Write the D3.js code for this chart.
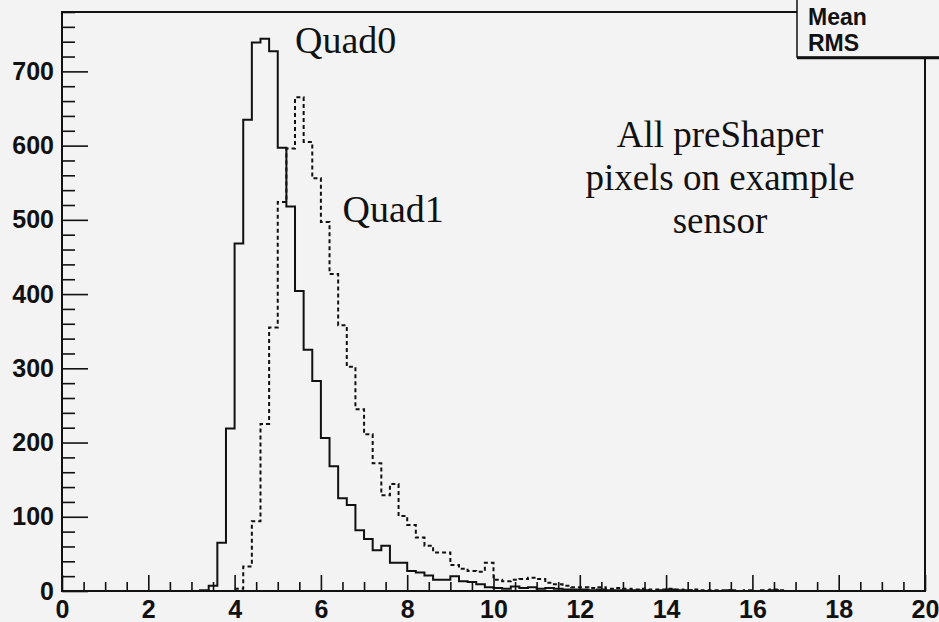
<!DOCTYPE html>
<html>
<head>
<meta charset="utf-8">
<script src="https://cdn.jsdelivr.net/npm/d3@7"></script>
<style>
  html, body { margin: 0; padding: 0; background: #f3f3f3; }
  svg { display: block; }
</style>
</head>
<body>
<svg id="chart" width="939" height="622"></svg>
<script>
// ---- data ----
const binLowEdges = [
  0.0,0.2,0.4,0.6,0.8,1.0,1.2,1.4,1.6,1.8,
  2.0,2.2,2.4,2.6,2.8,3.0,3.2,3.4,3.6,3.8,
  4.0,4.2,4.4,4.6,4.8,5.0,5.2,5.4,5.6,5.8,
  6.0,6.2,6.4,6.6,6.8,7.0,7.2,7.4,7.6,7.8,
  8.0,8.2,8.4,8.6,8.8,9.0,9.2,9.4,9.6,9.8,
  10.0,10.2,10.4,10.6,10.8,11.0,11.2,11.4,11.6,11.8,
  12.0,12.2,12.4,12.6,12.8,13.0,13.2,13.4,13.6,13.8,
  14.0,14.2,14.4,14.6,14.8,15.0,15.2,15.4,15.6,15.8,
  16.0,16.2,16.4,16.6,16.8,17.0,17.2,17.4,17.6,17.8,
  18.0,18.2,18.4,18.6,18.8,19.0,19.2,19.4,19.6,19.8
];
const binWidth = 0.2;

const quad0 = [
  0,0,0,0,0,0,0,0,0,0,
  0,0,0,0,0,0,1,7,65,219,
  468,635,739,744,727,597,518,404,325,283,
  206,168,125,116,82,70,55,61,38,38,
  27,25,21,15,15,20,13,12,9,5,
  4,3,6,4,5,3,4,3,2,2,
  2,1,2,1,1,1,1,1,0,1,
  2,1,1,0,0,0,0,1,0,0,
  0,0,1,0,0,0,0,0,0,0,
  0,0,0,0,0,0,0,0,0,0
];

const quad1 = [
  0,0,0,0,0,0,0,0,0,0,
  0,0,0,0,0,0,0,0,0,0,
  3,33,94,225,355,524,596,665,605,556,
  497,427,358,302,245,211,172,129,144,101,
  89,72,61,52,52,35,30,27,26,38,
  15,13,15,16,18,16,11,9,7,5,
  5,4,5,3,4,3,2,3,2,2,
  3,2,1,2,1,1,1,1,0,1,
  0,1,2,1,0,0,0,0,0,0,
  0,0,0,0,0,0,0,0,0,0
];

const xMajorTicks = [0,2,4,6,8,10,12,14,16,18,20];
const yMajorTicks = [0,100,200,300,400,500,600,700];
const xDomain = [0, 20];
const yDomain = [0, 780];

const histLabels = [
  {text: "Quad0", x: 5.4, y: 725},
  {text: "Quad1", x: 6.5, y: 497}
];
const noteLines = ["All preShaper", "pixels on example", "sensor"];
const statsLines = ["Mean", "RMS"];

// ---- layout ----
const pLeft = 62, pRight = 925, pTop = 12, pBottom = 591;
const svg = d3.select("#chart");

svg.append("rect").attr("width", 939).attr("height", 622).attr("fill", "#f3f3f3");

const x = d3.scaleLinear().domain(xDomain).range([pLeft, pRight]);
const y = d3.scaleLinear().domain(yDomain).range([pBottom, pTop]);

svg.append("defs").append("clipPath").attr("id", "plotclip")
  .append("rect").attr("x", pLeft).attr("y", pTop).attr("width", pRight - pLeft).attr("height", pBottom - pTop);

function stepPath(values) {
  const pts = [];
  values.forEach((v, i) => {
    const x0 = binLowEdges[i], x1 = binLowEdges[i] + binWidth;
    pts.push([x(x0), y(v)]);
    pts.push([x(x1), y(v)]);
  });
  return d3.line()(pts);
}

const g = svg.append("g").attr("clip-path", "url(#plotclip)");
g.append("path").attr("d", stepPath(quad1))
  .attr("fill", "none").attr("stroke", "#111").attr("stroke-width", 2)
  .attr("stroke-dasharray", "4,3");
g.append("path").attr("d", stepPath(quad0))
  .attr("fill", "none").attr("stroke", "#111").attr("stroke-width", 2);

// ---- axes ----
const xMinor = d3.range(0, 20.001, 0.5).filter(v => Math.abs(v / 2 - Math.round(v / 2)) > 1e-6);
const yMinor = d3.range(0, 781, 20).filter(v => v % 100 !== 0);

const fontAxis = "'Liberation Sans', Arial, Helvetica, sans-serif";

const xAxisMajor = d3.axisBottom(x).tickValues(xMajorTicks).tickSize(-16).tickPadding(9)
  .tickFormat(d3.format("d"));
const xAxisMinor = d3.axisBottom(x).tickValues(xMinor).tickSize(-9).tickFormat("");
const yAxisMajor = d3.axisLeft(y).tickValues(yMajorTicks).tickSize(-26).tickPadding(8)
  .tickFormat(d3.format("d"));
const yAxisMinor = d3.axisLeft(y).tickValues(yMinor).tickSize(-13).tickFormat("");

function styleAxis(sel) {
  sel.select(".domain").remove();
  sel.selectAll("line").attr("stroke", "#111").attr("stroke-width", 1.6);
  sel.selectAll("text").attr("fill", "#111")
    .style("font-family", fontAxis).style("font-weight", "bold").style("font-size", "25px");
}

svg.append("g").attr("transform", `translate(0,${pBottom})`).call(xAxisMinor).call(styleAxis);
svg.append("g").attr("transform", `translate(0,${pBottom})`).call(xAxisMajor).call(styleAxis);
svg.append("g").attr("transform", `translate(${pLeft},0)`).call(yAxisMinor).call(styleAxis);
svg.append("g").attr("transform", `translate(${pLeft},0)`).call(yAxisMajor).call(styleAxis);

// ---- frame ----
const boxLeft = 797, boxBottom = 57;
svg.append("path")
  .attr("d", `M${boxLeft},${pTop}H${pLeft}V${pBottom}H${pRight}V${boxBottom}`)
  .attr("fill", "none").attr("stroke", "#111").attr("stroke-width", 2);

// ---- stats box ----
svg.append("rect").attr("x", boxLeft).attr("y", -5).attr("width", 160).attr("height", boxBottom + 5)
  .attr("fill", "#f3f3f3").attr("stroke", "#111").attr("stroke-width", 1.5);
svg.append("line").attr("x1", boxLeft).attr("x2", 939).attr("y1", boxBottom + 1).attr("y2", boxBottom + 1)
  .attr("stroke", "#111").attr("stroke-width", 2.5);
svg.selectAll("text.stats").data(statsLines).join("text").attr("class", "stats")
  .attr("x", 808).attr("y", (d, i) => 25 + i * 26)
  .attr("fill", "#111")
  .style("font-family", fontAxis).style("font-weight", "bold").style("font-size", "23px")
  .text(d => d);

// ---- labels ----
const fontSerif = "'Liberation Serif', 'Times New Roman', Times, serif";
svg.selectAll("text.hlab").data(histLabels).join("text").attr("class", "hlab")
  .attr("x", d => x(d.x)).attr("y", d => y(d.y))
  .attr("fill", "#111").style("font-family", fontSerif).style("font-size", "38px")
  .text(d => d.text);

svg.selectAll("text.note").data(noteLines).join("text").attr("class", "note")
  .attr("x", 720).attr("y", (d, i) => 147 + i * 43)
  .attr("text-anchor", "middle")
  .attr("fill", "#111").style("font-family", fontSerif).style("font-size", "37px")
  .text(d => d);
</script>
</body>
</html>
